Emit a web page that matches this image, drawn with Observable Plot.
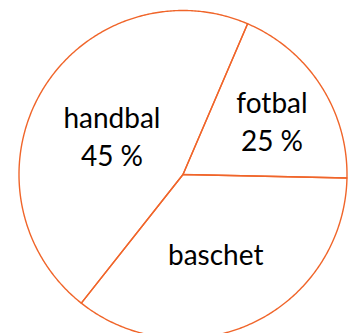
<!DOCTYPE html>
<html>
<head>
<meta charset="utf-8">
<script src="https://cdn.jsdelivr.net/npm/d3@7"></script>
<script src="https://cdn.jsdelivr.net/npm/@observablehq/plot@0.6"></script>
<style>
  html, body { margin: 0; padding: 0; background: #fff; }
</style>
</head>
<body>
<div id="chart"></div>
<script>
// Slice names, in clockwise order starting at the top-right radius
const categories = ["fotbal", "baschet", "handbal"];
// Slice sizes as drawn in the picture (share of the full circle, %)
const shares = [18.9, 35.3, 45.8];
// Printed labels
const labels = ["fotbal\n25 %", "baschet", "handbal\n45 %"];

// Layout / style
const W = 354, H = 333;
const cx = 182.5, cy = 174, R = 164;
const startDeg = 23.2;               // first radius, clockwise from 12 o'clock
const labelRadius = [0.6375, 0.5165, 0.496];
const labelTurn = [1.1, 2.5, -1.6];  // small angular nudges (deg)
const orange = "#f0652a";

const pie = d3.pie().sort(null).value(d => d.share)
  .startAngle(startDeg * Math.PI / 180)
  .endAngle((startDeg + 360) * Math.PI / 180);
const table = categories.map((c, i) => ({category: c, share: shares[i], label: labels[i], i}));
const arcs = pie(table);

// outline points of each slice (center -> arc -> center), in unit coordinates
const outline = [];
for (const a of arcs) {
  const n = Math.max(8, Math.ceil((a.endAngle - a.startAngle) / 0.01));
  outline.push({category: a.data.category, x: 0, y: 0});
  for (let k = 0; k <= n; k++) {
    const t = a.startAngle + (a.endAngle - a.startAngle) * k / n;
    outline.push({category: a.data.category, x: Math.sin(t), y: Math.cos(t)});
  }
  outline.push({category: a.data.category, x: 0, y: 0});
}

const labelPts = arcs.map(a => {
  const i = a.data.i;
  const m = (a.startAngle + a.endAngle) / 2 + labelTurn[i] * Math.PI / 180;
  return {label: a.data.label, x: labelRadius[i] * Math.sin(m), y: labelRadius[i] * Math.cos(m)};
});

const chart = Plot.plot({
  width: W,
  height: H,
  margin: 0,
  x: {domain: [-1, 1], range: [cx - R, cx + R], axis: null},
  y: {domain: [-1, 1], range: [cy + R, cy - R], axis: null},
  style: {background: "#fff"},
  marks: [
    Plot.line(outline, {x: "x", y: "y", z: "category", stroke: orange, strokeWidth: 1.4, fill: "none", curve: "linear"}),
    Plot.text(labelPts, {
      x: "x", y: "y", text: "label",
      fontSize: 28, fontFamily: "Lato, 'Liberation Sans', sans-serif",
      fill: "#000", lineHeight: 1.36, lineAnchor: "middle", textAnchor: "middle"
    })
  ]
});
document.getElementById("chart").appendChild(chart);
</script>
</body>
</html>
